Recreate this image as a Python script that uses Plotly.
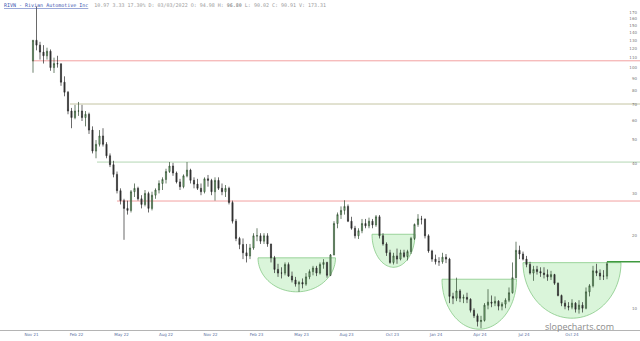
import numpy as np
import pandas as pd
import plotly.graph_objects as go

# ---------------- data (weekly candles) ----------------
week_start = "2021-11-12"
first_open = 106.75
closes = [129.95, 124, 116, 112, 117, 100, 104, 103.7, 87, 79,
          66, 62, 66, 66, 62, 64, 55, 45, 48, 52,
          48, 43, 39.5, 36, 30.8, 28, 26, 25.5, 30.5, 31.5,
          28.5, 27, 30, 26, 29.5, 31, 33, 34.3, 37, 39,
          36.5, 33.5, 32, 35.5, 37.5, 34, 32.8, 31.5, 30.5, 34.5,
          34, 30.5, 34, 31.5, 30.5, 31.5, 27.5, 23, 19.5, 18.4,
          17, 16.5, 17.8, 20, 20, 19, 20, 18.5, 16.2, 14.5,
          14, 14, 15.2, 13.6, 13.1, 12.6, 12.8, 12.6, 13.5, 14.2,
          14.7, 14, 15.2, 15.5, 13.7, 16.66, 22.5, 24.5, 25.5, 26.5,
          23, 21.5, 20, 21, 22.5, 22, 23, 22.2, 24, 20,
          18.5, 17, 15.5, 16.5, 16, 17, 16.4, 17.2, 19.5, 22.3,
          23.5, 23.46, 20, 17.3, 16, 15.6, 15.6, 16.3, 16, 11.2,
          11, 11.8, 11, 11.1, 10.9, 9.8, 9.3, 8.8, 8.9, 10.3,
          10.6, 10.5, 10.7, 10.2, 10.4, 10.8, 11.6, 13.4, 17.4, 16.8,
          16, 15.2, 14, 14.5, 14.2, 14, 13.8, 13.5, 13.8, 12.7,
          11.3, 10.5, 10.2, 10.1, 10.5, 9.9, 10.3, 10, 11.7, 12.4,
          14.3, 14, 13.6, 13.6, 15.3]
highs = [130, 179.5, 128, 124, 121, 119, 110, 112, 104, 92,
         80, 68, 70, 72, 70, 66, 65, 57, 50, 55,
         56, 49, 44, 41, 37, 31.5, 28.5, 28, 31, 33,
         32, 29.5, 31, 30.5, 30.5, 31.5, 34, 35, 38, 40.5,
         40.2, 37, 34.5, 36, 40.5, 38, 35, 34.5, 33, 35,
         35.8, 34.5, 35, 35, 33, 32.5, 32, 28, 23.5, 19.8,
         19.5, 18.5, 18.5, 20.5, 21.5, 20.5, 20.5, 20.5, 18.5, 16.5,
         15.3, 14.8, 15.5, 15.5, 14.2, 13.5, 13, 13.3, 14, 14.5,
         15, 15, 15.5, 16, 15.6, 16.8, 23, 25, 26.5, 28.1,
         27, 24, 22, 21.5, 23.5, 23.5, 23.8, 23.5, 24.4, 24.4,
         20.5, 18.8, 17.5, 17, 17.7, 17.5, 17.5, 17.5, 19.8, 22.5,
         24.6, 24.2, 23.6, 20.3, 17.5, 16.7, 16.3, 17, 16.8, 16.2,
         11.6, 13.4, 12, 11.4, 11.6, 11, 10, 9.5, 9.3, 10.5,
         12, 11.3, 11.2, 10.8, 10.6, 11, 12.2, 15.5, 18.9, 18.2,
         17.2, 16.5, 15.6, 15, 15, 14.8, 14.8, 14.5, 14.3, 13.9,
         12.8, 11.4, 10.8, 10.6, 10.9, 10.6, 10.8, 10.6, 12.2, 12.6,
         15, 15.3, 14.5, 14.4, 15.6]
lows = [95.2, 118, 108, 104, 108, 97, 95, 100, 84, 76,
        64, 56, 61, 63, 60, 57, 53, 44, 42, 47,
        47, 42, 38.6, 35, 30, 27, 19.25, 24.5, 25, 29,
        28, 26, 26.5, 25, 25.5, 28.5, 30, 31, 33, 36.5,
        35.5, 33, 31, 31.5, 35, 33, 31.5, 31, 29.5, 30,
        32, 29.5, 28, 31, 29.5, 29, 27, 22.5, 19, 17.6,
        16, 15.5, 16, 17.5, 19, 18.5, 18.5, 18, 15.5, 14,
        13.5, 13.3, 13.7, 13.5, 12.8, 12.3, 11.7, 12.1, 12.4, 13.2,
        13.7, 13.6, 13.8, 14.6, 13.4, 13.6, 16.6, 21.5, 23.5, 24.5,
        22.8, 21.2, 19.5, 19.4, 20.5, 21.5, 21.5, 21.5, 21.8, 19.5,
        18.2, 16.5, 15.3, 15.2, 15.3, 15.8, 16.2, 15.8, 16.8, 19.2,
        21.8, 22.3, 19.5, 17, 15.6, 15.2, 15, 15.3, 15.4, 10.5,
        10.4, 10.7, 10.6, 10.5, 10.5, 9.6, 9.1, 8.4, 8.26, 8.8,
        9.9, 10.1, 10.2, 9.8, 9.8, 10, 10.6, 11.5, 13.3, 16,
        15.8, 14.8, 13.8, 13, 13.8, 13.5, 13.3, 13, 13.1, 12.5,
        11.2, 10.2, 9.9, 9.8, 9.9, 9.6, 9.5, 9.6, 9.9, 11.2,
        12.2, 13.6, 13.1, 13.1, 13.2]

dates = pd.date_range(week_start, periods=len(closes), freq="W-FRI")
opens = [first_open] + closes[:-1]

# support / resistance levels
level_prices = [106.75, 70.6, 40.5, 27.9]
level_starts = ["2021-11-10", "2022-01-25", "2022-03-20", "2022-04-29"]
level_colors = ["#f2a0a0", "#c4c4a2", "#b4d6b4", "#f2a0a0"]
breakout_price = 15.6
breakout_start = "2025-01-03"

# cup (rounded bottom) annotations
cup_starts = ["2023-02-05", "2023-09-21", "2024-02-08", "2024-07-19"]
cup_ends = ["2023-07-10", "2023-12-16", "2024-07-06", "2025-01-31"]
cup_rims = [16.2, 20.3, 13.2, 15.47]
cup_bottoms = [11.7, 14.8, 8.18, 9.09]

y_ticks = [10, 20, 30, 40, 50, 60, 70, 80, 90, 100, 110, 120, 130, 140, 150, 160, 170]
x_tickvals = ["2021-11-09", "2022-02-07", "2022-05-08", "2022-08-05", "2022-11-02",
              "2023-02-02", "2023-05-03", "2023-08-01", "2023-11-01", "2024-01-27",
              "2024-04-24", "2024-07-21", "2024-10-25"]
x_ticktext = ["Nov 21", "Feb 22", "May 22", "Aug 22", "Nov 22", "Feb 23", "May 23",
              "Aug 23", "Oct 23", "Jan 24", "Apr 24", "Jul 24", "Oct 24"]

x_range = ["2021-09-07", "2025-03-10"]
y_range = [np.log10(8.12), np.log10(191)]

header_name = "RIVN - Rivian Automotive Inc"
header_info = "10.97 3.33 17.30% D: 03/03/2022 O: 94.98 H: <b>96.80</b> L: 90.02 C: 90.91 V: 173.31"

# ---------------- figure ----------------
fig = go.Figure()
fig.add_trace(go.Candlestick(
    x=dates, open=opens, high=highs, low=lows, close=closes,
    increasing=dict(line=dict(color="#2f4a2f", width=0.7), fillcolor="#8fcf8f"),
    decreasing=dict(line=dict(color="#2a2a2a", width=0.7), fillcolor="#3a3a3a"),
    whiskerwidth=0, showlegend=False, hoverinfo="skip",
))

shapes = []
for p, s, c in zip(level_prices, level_starts, level_colors):
    shapes.append(dict(type="line", xref="x", yref="y", x0=s, x1=x_range[1], y0=p, y1=p,
                       line=dict(color=c, width=1), layer="below"))
shapes.append(dict(type="line", xref="x", yref="y", x0=breakout_start, x1=x_range[1],
                   y0=breakout_price, y1=breakout_price,
                   line=dict(color="#3f9a3f", width=1.6), layer="above"))

t = np.linspace(0, np.pi, 48)
for s, e, rim, bot in zip(cup_starts, cup_ends, cup_rims, cup_bottoms):
    s_ts, e_ts = pd.Timestamp(s), pd.Timestamp(e)
    centre = s_ts + (e_ts - s_ts) / 2
    half = (e_ts - s_ts) / 2
    lr, lb = np.log10(rim), np.log10(bot)
    pts = []
    for tt in t:
        xd = centre + half * np.cos(tt)
        yv = 10 ** (lr - (lr - lb) * np.sin(tt))
        pts.append((xd.strftime("%Y-%m-%d_%H:%M:%S"), yv))
    path = "M " + " L ".join(f"{x},{y:.4f}" for x, y in pts) + " Z"
    shapes.append(dict(type="path", xref="x", yref="y", path=path,
                       fillcolor="rgba(150,225,150,0.35)",
                       line=dict(color="#86c986", width=0.8), layer="below"))

fig.update_layout(
    width=640, height=341,
    margin=dict(l=0, r=0, t=0, b=11),
    paper_bgcolor="white", plot_bgcolor="white",
    showlegend=False,
    boxgap=0.55,
    shapes=shapes,
    xaxis=dict(type="date", range=x_range, rangeslider=dict(visible=False),
               showgrid=False, zeroline=False, showline=True, linecolor="#b4b4b4",
               linewidth=1, ticks="", tickvals=x_tickvals, ticktext=x_ticktext,
               tickfont=dict(size=4, color="#5a6fa0", family="DejaVu Sans")),
    yaxis=dict(type="log", range=y_range, side="right", ticklabelposition="inside",
               showgrid=False, zeroline=False, showline=False, ticks="",
               tickvals=y_ticks, ticktext=[str(v) for v in y_ticks],
               tickfont=dict(size=4, color="#777777", family="DejaVu Sans")),
    annotations=[
        dict(xref="paper", yref="paper", x=0.003, y=1.0, xanchor="left", yanchor="top",
             showarrow=False,
             text=(f"<span style='color:#3a55b0;text-decoration:underline'>{header_name}</span>"
                   f"  <span style='color:#9a9a9a'>{header_info}</span>"),
             font=dict(size=5, family="DejaVu Sans Mono")),
        dict(xref="paper", yref="paper", x=0.905, y=0.012, xanchor="center", yanchor="middle",
             showarrow=False, text="slopecharts.com",
             font=dict(size=9, color="#8c8c8c", family="Open Sans")),
    ],
)

fig.write_html("out.html", include_plotlyjs=True, config={"displayModeBar": False})
